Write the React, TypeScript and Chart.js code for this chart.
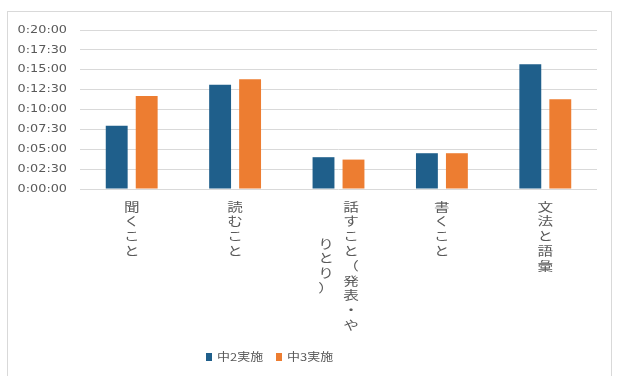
import React, { useEffect, useRef } from "react";
import { Chart, registerables } from "chart.js";

Chart.register(...registerables);

// ---- data ----
const categories = ["聞くこと", "読むこと", "話すこと（発表・やりとり）", "書くこと", "文法と語彙"];
const categoryLines = [["聞くこと"], ["読むこと"], ["話すこと（発表・や", "りとり）"], ["書くこと"], ["文法と語彙"]];
const seriesNames = ["中2実施", "中3実施"];
// values in seconds
const grade2Seconds = [478, 786, 240, 270, 942];
const grade3Seconds = [702, 828, 222, 270, 678];
const yMin = 0;
const yMax = 1200;
const yStep = 150;

const BLUE = "#1F5F8B";
const ORANGE = "#ED7D31";
const TEXT = "#595959";
const GRID = "#D9D9D9";

function fmt(sec: number): string {
  const h = Math.floor(sec / 3600);
  const m = Math.floor((sec % 3600) / 60);
  const s = Math.round(sec % 60);
  return `${h}:${String(m).padStart(2, "0")}:${String(s).padStart(2, "0")}`;
}

function stretchedText(ctx: CanvasRenderingContext2D, text: string, x: number, y: number, sx: number) {
  ctx.save();
  ctx.translate(x, y);
  ctx.scale(sx, 1);
  ctx.fillText(text, 0, 0);
  ctx.restore();
}

const customPlugin = {
  id: "customText",
  afterDraw(chart: any) {
    const ctx: CanvasRenderingContext2D = chart.ctx;
    const ys = chart.scales.y;
    const xs = chart.scales.x;
    ctx.save();
    // outer border
    ctx.strokeStyle = GRID;
    ctx.lineWidth = 1;
    ctx.strokeRect(7.5, 11.5, 604, 380);

    // y tick labels
    ctx.fillStyle = TEXT;
    ctx.font = "10.5px 'DejaVu Sans'";
    ctx.textAlign = "right";
    ctx.textBaseline = "middle";
    ys.ticks.forEach((t: any) => {
      const y = ys.getPixelForValue(t.value);
      stretchedText(ctx, fmt(t.value), 67, y, 1.22);
    });

    // x category labels, vertical stacked
    ctx.font = "12px 'Noto Sans CJK JP'";
    ctx.textAlign = "center";
    ctx.textBaseline = "middle";
    const pitch = 14.8;
    const colGap = 25;
    const top = 207;
    categoryLines.forEach((lines, i) => {
      const cx = xs.getPixelForValue(i);
      const maxLen = Math.max(...lines.map((l) => Array.from(l).length));
      lines.forEach((line, j) => {
        const chars = Array.from(line);
        const x = cx + ((lines.length - 1) / 2) * colGap - j * colGap;
        const off = ((maxLen - chars.length) * pitch) / 2;
        chars.forEach((ch, k) => {
          stretchedText(ctx, ch, x, top + off + k * pitch, 1.3);
        });
      });
    });

    // legend
    ctx.font = "11px 'Noto Sans CJK JP'";
    ctx.textAlign = "left";
    ctx.textBaseline = "middle";
    const legendY = 357;
    const colors = [BLUE, ORANGE];
    let lx = 206;
    seriesNames.forEach((name, i) => {
      ctx.fillStyle = colors[i];
      ctx.fillRect(lx, legendY - 4, 6, 8);
      ctx.fillStyle = TEXT;
      stretchedText(ctx, name, lx + 11, legendY, 1.18);
      lx += 70;
    });
    ctx.restore();
  },
};

export default function App() {
  const ref = useRef<HTMLCanvasElement | null>(null);
  useEffect(() => {
    if (!ref.current) return;
    const chart = new Chart(ref.current, {
      type: "bar",
      data: {
        labels: categories,
        datasets: [
          {
            label: seriesNames[0],
            data: grade2Seconds,
            backgroundColor: BLUE,
            categoryPercentage: 0.58,
            barPercentage: 0.73,
          },
          {
            label: seriesNames[1],
            data: grade3Seconds,
            backgroundColor: ORANGE,
            categoryPercentage: 0.58,
            barPercentage: 0.73,
          },
        ],
      },
      options: {
        responsive: false,
        animation: false,
        layout: { padding: { left: 0, right: 22, top: 30, bottom: 187 } },
        plugins: {
          legend: { display: false },
          tooltip: { enabled: false },
        },
        scales: {
          x: {
            display: true,
            grid: { display: false },
            border: { display: false },
            ticks: { display: false },
            afterFit: (s: any) => {
              s.height = 0;
            },
          },
          y: {
            min: yMin,
            max: yMax,
            ticks: { display: false, stepSize: yStep },
            grid: { color: GRID, lineWidth: 1, drawTicks: false },
            border: { display: false },
            afterFit: (s: any) => {
              s.width = 80;
            },
          },
        },
      },
      plugins: [customPlugin],
    });
    return () => chart.destroy();
  }, []);
  return (
    <div style={{ position: "absolute", left: 0, top: 0, width: 619, height: 376, background: "#fff" }}>
      <canvas ref={ref} width={619} height={376} />
    </div>
  );
}
